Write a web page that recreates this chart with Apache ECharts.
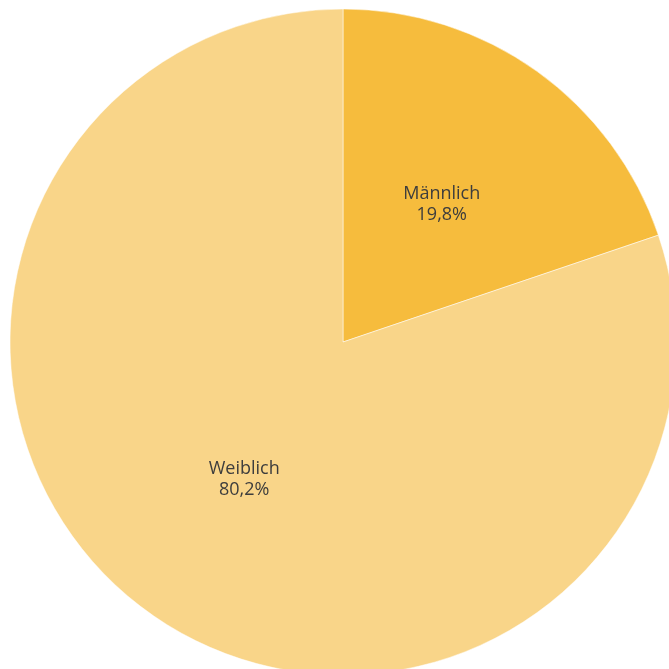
<!DOCTYPE html>
<html><head><meta charset="utf-8">
<script src="https://cdn.jsdelivr.net/npm/echarts@6/dist/echarts.min.js"></script>
<style>html,body{margin:0;padding:0;background:#fff}#c{width:669px;height:669px}</style>
</head><body><div id="c"></div>
<script>
const categories = ['Männlich', 'Weiblich'];
const values = [19.8, 80.2];
const colors = ['#F6BC3D', '#F9D589'];
const chart = echarts.init(document.getElementById('c'), null, {renderer: 'canvas'});
chart.setOption({
  animation: false,
  series: [{
    type: 'pie',
    center: [343, 342],
    radius: 333,
    startAngle: 90,
    clockwise: true,
    data: categories.map((n, i) => ({name: n, value: values[i], itemStyle: {color: colors[i]}})),
    itemStyle: {borderColor: 'rgba(255,255,255,0.5)', borderWidth: 1},
    label: {
      position: 'inside',
      formatter: p => p.name + '\n' + p.value.toFixed(1).replace('.', ',') + '%',
      fontFamily: 'Open Sans',
      fontSize: 18,
      lineHeight: 21,
      color: '#3d3d3d'
    },
    labelLine: {show: false},
    emphasis: {disabled: true}
  }]
});
</script></body></html>
